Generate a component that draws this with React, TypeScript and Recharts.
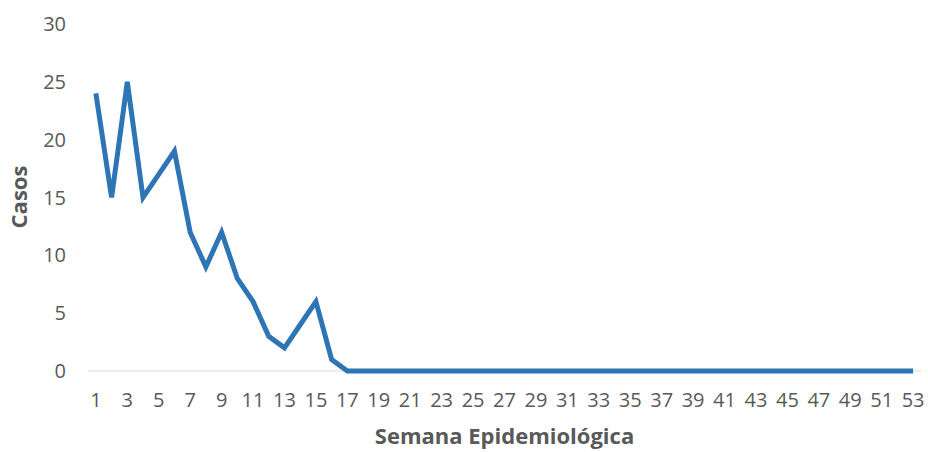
import React from 'react'
import { LineChart, Line, XAxis, YAxis, Label, CartesianGrid } from 'recharts'

// semanas epidemiológicas
const weeks = [
   1, 2, 3, 4, 5, 6, 7, 8, 9, 10, 11, 12, 13, 14, 15, 16, 17, 18, 19, 20, 21,
   22, 23, 24, 25, 26, 27, 28, 29, 30, 31, 32, 33, 34, 35, 36, 37, 38, 39, 40,
   41, 42, 43, 44, 45, 46, 47, 48, 49, 50, 51, 52, 53,
]

// casos por semana
const cases = [
   24, 15, 25, 15, 17, 19, 12, 9, 12, 8, 6, 3, 2, 4, 6, 1, 0, 0, 0, 0, 0, 0, 0,
   0, 0, 0, 0, 0, 0, 0, 0, 0, 0, 0, 0, 0, 0, 0, 0, 0, 0, 0, 0, 0, 0, 0, 0, 0, 0,
   0, 0, 0, 0,
]

const yTicks = [0, 5, 10, 15, 20, 25, 30]

const xTitle = 'Semana Epidemiológica'
const yTitle = 'Casos'

const data = weeks.map((w, i) => ({ week: w, casos: cases[i] }))

const FONT = '"Open Sans", sans-serif'
const TEXT = '#595959'

const W = 928
const H = 452
const TOP = 24
const X_AXIS_H = 81

export default function App() {
   return (
      <div
         style={{
            position: 'absolute',
            left: 0,
            top: 0,
            width: W,
            height: H,
            background: '#fff',
         }}
      >
         <LineChart
            width={W}
            height={H}
            data={data}
            margin={{ top: TOP, right: 7, left: 0, bottom: 0 }}
         >
            {/* linea base (eje x) debajo de la serie */}
            <CartesianGrid
               vertical={false}
               horizontalPoints={[H - X_AXIS_H]}
               stroke="#D9D9D9"
               strokeWidth={1}
            />
            <XAxis
               dataKey="week"
               interval={1}
               height={X_AXIS_H}
               padding={{ left: 7.86, right: 7.86 }}
               axisLine={false}
               tickLine={false}
               tickSize={6}
               tickMargin={16}
               tick={{ fill: TEXT, fontSize: 20, fontFamily: FONT }}
            >
               <Label
                  content={() => (
                     <text
                        x={504.5}
                        y={444}
                        textAnchor="middle"
                        fill={TEXT}
                        fontSize={22}
                        fontWeight="bold"
                        fontFamily={FONT}
                     >
                        {xTitle}
                     </text>
                  )}
               />
            </XAxis>
            <YAxis
               width={88}
               domain={[0, 30]}
               ticks={yTicks}
               axisLine={false}
               tickLine={false}
               tickSize={6}
               tickMargin={16}
               tick={{ fill: TEXT, fontSize: 20, fontFamily: FONT }}
            >
               <Label
                  content={() => (
                     <text
                        x={18}
                        y={197}
                        transform="rotate(-90, 18, 197)"
                        textAnchor="middle"
                        dominantBaseline="central"
                        fill={TEXT}
                        fontSize={22}
                        fontWeight="bold"
                        fontFamily={FONT}
                     >
                        {yTitle}
                     </text>
                  )}
               />
            </YAxis>
            <Line
               type="linear"
               dataKey="casos"
               stroke="#2E75B6"
               strokeWidth={5}
               dot={false}
               activeDot={false}
               isAnimationActive={false}
            />
         </LineChart>
      </div>
   )
}
